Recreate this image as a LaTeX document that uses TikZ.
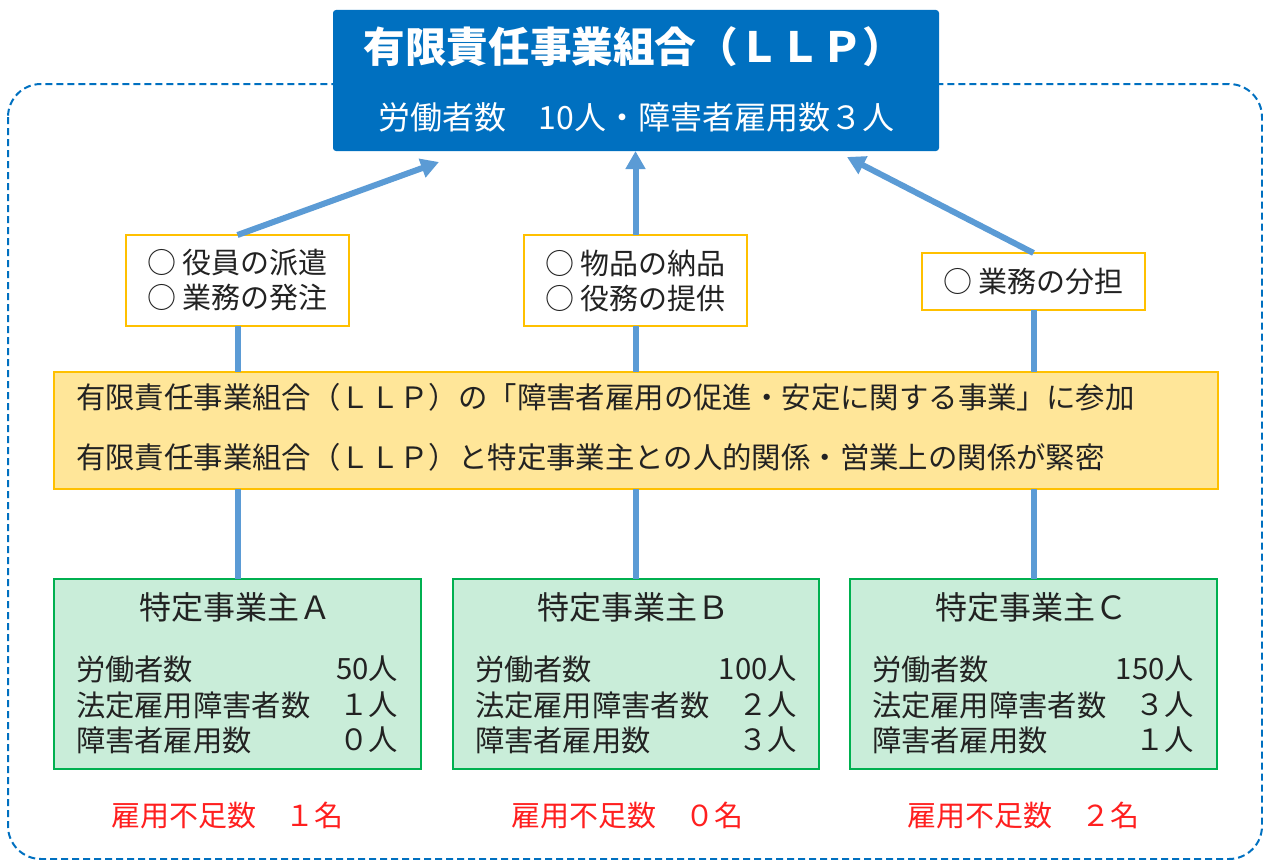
\documentclass[tikz,border=0pt]{standalone}
\usepackage{fontspec}
\setmainfont{Noto Sans CJK JP}
\usetikzlibrary{arrows.meta}
\definecolor{llpblue}{HTML}{0070C0}
\definecolor{arrowblue}{HTML}{5B9BD5}
\definecolor{boxorange}{HTML}{FFC000}
\definecolor{yellowfill}{HTML}{FFE699}
\definecolor{greenfill}{HTML}{C9EDD9}
\definecolor{greenline}{HTML}{00B050}
\definecolor{redtext}{HTML}{FF1F1F}
\definecolor{textgray}{HTML}{222222}
\begin{document}
\begin{tikzpicture}[x=1pt,y=-1pt,
  every node/.style={inner sep=0pt, outer sep=0pt, text=textgray},
  conn/.style={draw=arrowblue, line width=6pt},
  arr/.style={conn, -{Triangle[length=18pt,width=19pt]}},
  smallbox/.style={draw=boxorange, line width=2pt, fill=white, minimum width=223pt, align=center,
    font=\fontsize{29}{35}\selectfont},
  greenbox/.style={draw=greenline, line width=2.5pt, fill=greenfill, minimum width=367pt, minimum height=190pt},
  gtitle/.style={font=\fontsize{32}{34}\selectfont},
  rowlabel/.style={anchor=west, font=\fontsize{29.3}{31}\selectfont},
  rowval/.style={anchor=east, font=\fontsize{29.3}{31}\selectfont},
  shortage/.style={text=redtext, font=\fontsize{29}{31}\selectfont},
  yeltext/.style={anchor=west, font=\fontsize{29.4}{32}\selectfont}
]
\useasboundingbox (0,0) rectangle (1263,859);

% dashed enclosure
\draw[llpblue, line width=2pt, dash pattern=on 7pt off 4pt, rounded corners=33pt] (8,84) rectangle (1262,859);

% top LLP box
\node[fill=llpblue, rounded corners=3pt, minimum width=606pt, minimum height=141pt] (llp) at (636,80.5) {};
\node[text=white, font=\fontsize{41.6}{43}\selectfont\bfseries] (llptitle) at (634,47) {有限責任事業組合（ＬＬＰ）};
\node[text=white, font=\fontsize{32}{34}\selectfont] (llpsub) at (636.5,117) {労働者数　10人・障害者雇用数３人};

% small boxes
\node[smallbox, minimum height=91pt] (box1) at (237.5,280.5) {○ 役員の派遣\\○ 業務の発注};
\node[smallbox, minimum height=91pt] (box2) at (635.5,280.5) {○ 物品の納品\\○ 役務の提供};
\node[smallbox, minimum height=57pt] (box3) at (1033.5,281.5) {○ 業務の分担};

% yellow box
\node[draw=boxorange, line width=2pt, fill=yellowfill, minimum width=1164pt, minimum height=117pt] (yel) at (636,430.5) {};
\node[yeltext] (yel1) at (76,397) {有限責任事業組合（ＬＬＰ）の「障害者雇用の促進・安定に関する事業」に参加};
\node[yeltext] (yel2) at (76,457) {有限責任事業組合（ＬＬＰ）と特定事業主との人的関係・営業上の関係が緊密};

% green boxes
\node[greenbox] (gA) at (237.5,674) {};
\node[greenbox, minimum width=366pt] (gB) at (636,674) {};
\node[greenbox] (gC) at (1033.5,674) {};

\node[gtitle] (tA) at (235,607) {特定事業主Ａ};
\node[gtitle] (tB) at (633.5,607) {特定事業主Ｂ};
\node[gtitle] (tC) at (1031,607) {特定事業主Ｃ};

\foreach \b/\x in {A/76, B/475, C/872} {
  \node[rowlabel] (l1\b) at (\x,669) {労働者数};
  \node[rowlabel] (l2\b) at (\x,705) {法定雇用障害者数};
  \node[rowlabel] (l3\b) at (\x,740) {障害者雇用数};
}
\node[rowval] (v1A) at (398,669) {50人};
\node[rowval] (v2A) at (398,705) {１人};
\node[rowval] (v3A) at (398,740) {０人};
\node[rowval] (v1B) at (797,669) {100人};
\node[rowval] (v2B) at (797,705) {２人};
\node[rowval] (v3B) at (797,740) {３人};
\node[rowval] (v1C) at (1194,669) {150人};
\node[rowval] (v2C) at (1194,705) {３人};
\node[rowval] (v3C) at (1194,740) {１人};

% shortage labels
\node[shortage] (sA) at (227,815) {雇用不足数　１名};
\node[shortage] (sB) at (627,815) {雇用不足数　０名};
\node[shortage] (sC) at (1023,815) {雇用不足数　２名};

% connectors
\coordinate (tip1) at (439,162);
\coordinate (tip3) at (847,157);
\draw[arr] (box1.north) -- (tip1);
\draw[arr] (box2.north) -- (box2.north |- llp.south);
\draw[arr] (box3.north) -- (tip3);
\draw[conn] (box1.south) -- (box1.south |- yel.north);
\draw[conn] (box2.south) -- (box2.south |- yel.north);
\draw[conn] (box3.south) -- (box3.south |- yel.north);
\draw[conn] (gA.north) -- (gA.north |- yel.south);
\draw[conn] (gB.north) -- (gB.north |- yel.south);
\draw[conn] (gC.north) -- (gC.north |- yel.south);
\end{tikzpicture}
\end{document}
